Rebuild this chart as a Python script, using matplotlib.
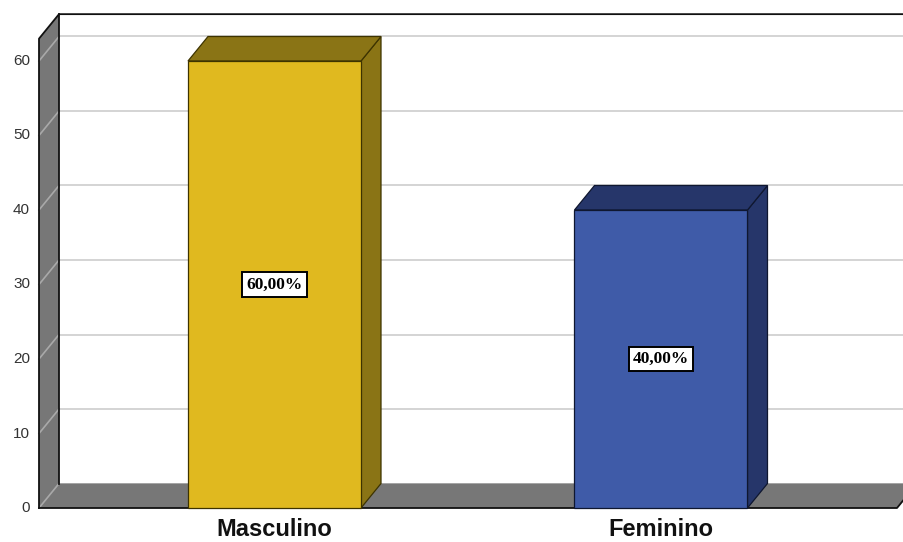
import matplotlib
matplotlib.use("Agg")
import matplotlib.pyplot as plt
from matplotlib.patches import Polygon

categories = ["Masculino", "Feminino"]
percents = [60.0, 40.0]
ticks = [0, 10, 20, 30, 40, 50, 60]
y_max = 63

face_colors = ["#e0b91f", "#3f5ba8"]
shade_colors = ["#8a7415", "#26366a"]
edge_colors = ["#3d3300", "#0f1730"]

# layout in pixels along x, percent units along y
px_per_unit = 7.45
depth_x = 20
depth_y = 24.5 / px_per_unit
wall_x = 39
floor_end = 897
bar_centers = [274.5, 661]
bar_half = 86.5

fig = plt.figure(figsize=(9.04, 5.42), dpi=100)
ax = fig.add_axes([0, 0, 1, 1])
ax.set_xlim(0, 904)
ax.set_ylim(-34 / px_per_unit, 508 / px_per_unit)
ax.axis("off")

# back wall grid
for t in ticks:
    ax.plot([wall_x + depth_x, 904], [t + depth_y] * 2, color="#d4d4d4", lw=1.4, zorder=1)

# floor
ax.add_patch(Polygon([(wall_x, 0), (floor_end, 0), (floor_end + depth_x, depth_y),
                      (wall_x + depth_x, depth_y)], closed=True, fc="#777777",
                     ec="none", zorder=2))
ax.plot([wall_x, floor_end, floor_end + depth_x], [0, 0, depth_y], color="#111111", lw=1.3, zorder=3)

# left wall
ax.add_patch(Polygon([(wall_x, 0), (wall_x, y_max), (wall_x + depth_x, y_max + depth_y),
                      (wall_x + depth_x, depth_y)], closed=True, fc="#777777",
                     ec="none", zorder=2))
for t in ticks:
    ax.plot([wall_x, wall_x + depth_x], [t, t + depth_y], color="#a9a9a9", lw=1.2, zorder=2.5)
ax.plot([wall_x, wall_x, wall_x + depth_x, 904], [0, y_max, y_max + depth_y, y_max + depth_y],
        color="#111111", lw=1.3, zorder=3)
ax.plot([wall_x + depth_x] * 2, [depth_y, y_max + depth_y], color="#111111", lw=1.3, zorder=3)

for t in ticks:
    ax.text(30, t, str(t), ha="right", va="center", fontsize=11,
            family="Liberation Sans", color="#333333")

# bars
for i, (cat, v) in enumerate(zip(categories, percents)):
    x0 = bar_centers[i] - bar_half
    x1 = bar_centers[i] + bar_half
    side = [(x1, 0), (x1 + depth_x, depth_y), (x1 + depth_x, v + depth_y), (x1, v)]
    top = [(x0, v), (x1, v), (x1 + depth_x, v + depth_y), (x0 + depth_x, v + depth_y)]
    front = [(x0, 0), (x1, 0), (x1, v), (x0, v)]
    for pts, fc in [(side, shade_colors[i]), (top, shade_colors[i]), (front, face_colors[i])]:
        ax.add_patch(Polygon(pts, closed=True, fc=fc, ec=edge_colors[i], lw=0.9, zorder=4))
    ax.text(bar_centers[i], v / 2, f"{v:.2f}%".replace(".", ","), ha="center", va="center",
            fontsize=12.5, fontweight="bold", family="Liberation Serif", zorder=5,
            bbox=dict(boxstyle="square,pad=0.25", fc="white", ec="black", lw=1.4))
    ax.text(bar_centers[i], -2.95, cat, ha="center", va="center", fontsize=17,
            fontweight="bold", family="Liberation Sans", color="#111111")

fig.savefig("out.png", dpi=100)
